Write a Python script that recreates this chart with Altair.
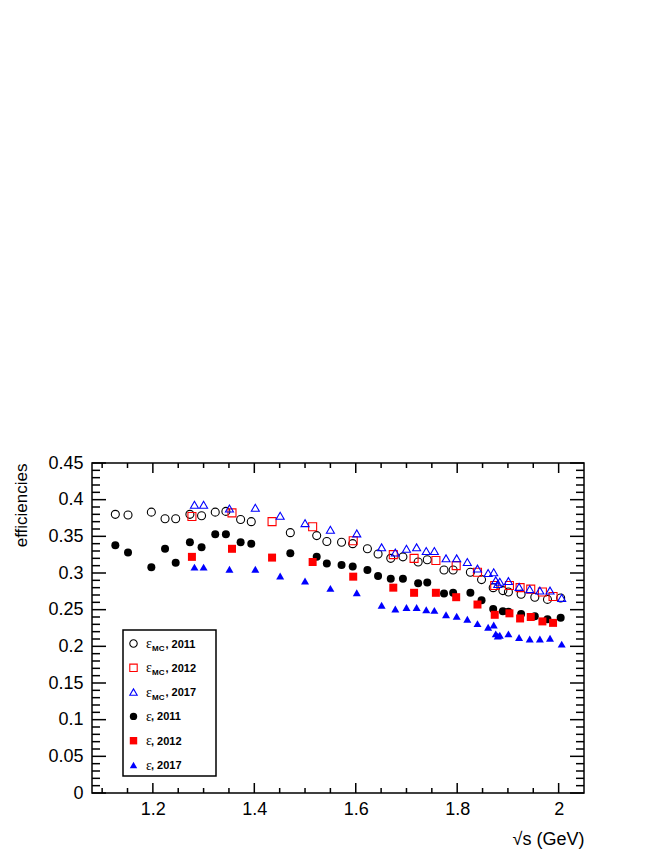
import altair as alt
import pandas as pd

# ---------------- data ----------------
x_2011 = [1.126, 1.151, 1.197, 1.224, 1.245, 1.273, 1.296, 1.323, 1.344, 1.373, 1.394,
          1.471, 1.523, 1.543, 1.572, 1.594, 1.623, 1.644, 1.669, 1.693, 1.723, 1.741,
          1.774, 1.792, 1.826, 1.848, 1.871, 1.890, 1.901, 1.926, 1.953, 1.978, 2.004]
mc_2011 = [0.380, 0.379, 0.383, 0.374, 0.374, 0.380, 0.378, 0.383, 0.384, 0.373, 0.370,
           0.355, 0.351, 0.343, 0.342, 0.340, 0.333, 0.326, 0.320, 0.322, 0.315, 0.318,
           0.304, 0.304, 0.301, 0.291, 0.280, 0.276, 0.274, 0.271, 0.267, 0.264, 0.266]
eps_2011 = [0.338, 0.328, 0.308, 0.333, 0.314, 0.342, 0.335, 0.353, 0.353, 0.342, 0.340,
            0.327, 0.322, 0.313, 0.311, 0.309, 0.304, 0.296, 0.292, 0.292, 0.286, 0.287,
            0.272, 0.273, 0.273, 0.263, 0.251, 0.248, 0.247, 0.244, 0.241, 0.237, 0.239]

x_2012 = [1.277, 1.356, 1.435, 1.515, 1.595, 1.674, 1.715, 1.758, 1.798, 1.840,
          1.874, 1.903, 1.924, 1.945, 1.968, 1.989]
mc_2012 = [0.377, 0.382, 0.370, 0.363, 0.344, 0.325, 0.320, 0.317, 0.310, 0.301,
           0.283, 0.283, 0.280, 0.278, 0.274, 0.268]
eps_2012 = [0.322, 0.333, 0.321, 0.315, 0.295, 0.280, 0.273, 0.273, 0.267, 0.257,
            0.243, 0.245, 0.238, 0.240, 0.234, 0.232]

x_2017 = [1.282, 1.300, 1.351, 1.402, 1.451, 1.500, 1.550, 1.602, 1.651, 1.678,
          1.700, 1.720, 1.739, 1.755, 1.778, 1.799, 1.820, 1.840, 1.861, 1.872,
          1.876, 1.880, 1.884, 1.901, 1.922, 1.943, 1.963, 1.983, 2.006]
mc_2017 = [0.393, 0.393, 0.388, 0.389, 0.378, 0.368, 0.359, 0.354, 0.335, 0.328,
           0.333, 0.335, 0.330, 0.330, 0.320, 0.320, 0.315, 0.306, 0.300, 0.301,
           0.290, 0.285, 0.288, 0.289, 0.281, 0.278, 0.276, 0.276, 0.266]
eps_2017 = [0.308, 0.308, 0.305, 0.305, 0.296, 0.289, 0.279, 0.273, 0.256, 0.251,
            0.253, 0.253, 0.250, 0.249, 0.243, 0.241, 0.237, 0.231, 0.226, 0.229,
            0.217, 0.214, 0.215, 0.217, 0.212, 0.210, 0.210, 0.211, 0.203]

years = ["2011", "2012", "2017"]
colors = ["#000000", "#ff0000", "#0000ff"]
shapes = ["circle", "square", "triangle-up"]

x_major = [1.2, 1.4, 1.6, 1.8, 2.0]
x_minor = [1.1, 1.15, 1.25, 1.3, 1.35, 1.45, 1.5, 1.55, 1.65, 1.7, 1.75,
           1.85, 1.9, 1.95]
y_major = [0.0, 0.05, 0.1, 0.15, 0.2, 0.25, 0.3, 0.35, 0.4, 0.45]
y_minor = [round(i * 0.01, 2) for i in range(46) if i % 5 != 0]

# ---------------- layout ----------------
W, H = 492, 330
FONT = "Liberation Sans"

xscale = alt.Scale(domain=[1.08, 2.05], nice=False, zero=False)
yscale = alt.Scale(domain=[0, 0.45], nice=False, zero=True)

xaxis = alt.Axis(values=x_major, format=".1~f", ticks=False, domain=False, grid=False,
                 labelFontSize=18, labelFont=FONT, labelColor="black", labelPadding=7,
                 labelFlush=False, orient="bottom",
                 title="√s (GeV)", titleFont=FONT, titleFontSize=18, titleFontWeight="normal",
                 titleColor="black", titleAnchor="end", titlePadding=12)
yaxis = alt.Axis(values=y_major, format=".2~f", ticks=False, domain=False, grid=False,
                 labelFontSize=18, labelFont=FONT, labelColor="black", labelPadding=9,
                 labelFlush=False, orient="left",
                 title="efficiencies", titleFont=FONT, titleFontSize=17,
                 titleFontWeight="normal", titleColor="black", titleAnchor="end",
                 titlePadding=17)

dummy = pd.DataFrame({"d": [0]})


def X(field):
    return alt.X(field, type="quantitative", scale=xscale, axis=xaxis)


def Y(field):
    return alt.Y(field, type="quantitative", scale=yscale, axis=yaxis)


def series_layer(xs, ys, shape, color, filled):
    df = pd.DataFrame({"x": xs, "y": ys})
    if filled:
        mk = dict(shape=shape, filled=True, fill=color, strokeWidth=0, size=64, opacity=1)
    else:
        mk = dict(shape=shape, filled=False, stroke=color, strokeWidth=1.1, size=64, opacity=1)
    return alt.Chart(df).mark_point(**mk).encode(x=X("x"), y=Y("y"))


layers = []
layers.append(series_layer(x_2011, mc_2011, "circle", colors[0], False))
layers.append(series_layer(x_2012, mc_2012, "square", colors[1], False))
layers.append(series_layer(x_2017, mc_2017, "triangle-up", colors[2], False))
layers.append(series_layer(x_2011, eps_2011, "circle", colors[0], True))
layers.append(series_layer(x_2012, eps_2012, "square", colors[1], True))
layers.append(series_layer(x_2017, eps_2017, "triangle-up", colors[2], True))


# ---------------- inward ticks on all four sides ----------------
def xticks(vals, length):
    df = pd.DataFrame({"x": vals})
    base = alt.Chart(df).mark_rule(color="black", strokeWidth=1.5)
    bottom = base.encode(x=X("x"), y=alt.value(H), y2=alt.value(H - length))
    top = base.encode(x=X("x"), y=alt.value(0), y2=alt.value(length))
    return [bottom, top]


def yticks(vals, length):
    df = pd.DataFrame({"y": vals})
    base = alt.Chart(df).mark_rule(color="black", strokeWidth=1.5)
    left = base.encode(y=Y("y"), x=alt.value(0), x2=alt.value(length))
    right = base.encode(y=Y("y"), x=alt.value(W), x2=alt.value(W - length))
    return [left, right]


layers += xticks(x_major, 10) + xticks(x_minor, 5)
layers += yticks(y_major, 14) + yticks(y_minor, 8)

# ---------------- legend box ----------------
LX0, LX1, LY0, LY1 = 31, 124, 167, 313
layers.append(alt.Chart(dummy).mark_rect(fill="white", stroke="black", strokeWidth=1.5).encode(
    x=alt.value(LX0), x2=alt.value(LX1), y=alt.value(LY0), y2=alt.value(LY1)))

row0, step = 181, 24.3
entries = [(True, 0), (True, 1), (True, 2), (False, 0), (False, 1), (False, 2)]

for r, (is_mc, i) in enumerate(entries):
    yc = row0 + step * r
    mk = dict(shape=shapes[i], size=55, opacity=1)
    if is_mc:
        mk.update(filled=False, stroke=colors[i], strokeWidth=1.1)
    else:
        mk.update(filled=True, fill=colors[i], strokeWidth=0)
    layers.append(alt.Chart(dummy).mark_point(**mk).encode(
        x=alt.value(41.5), y=alt.value(yc - 0.5)))
    layers.append(alt.Chart(dummy).mark_text(
        text="ε", font="Liberation Serif", fontSize=14, align="left",
        baseline="alphabetic", color="black").encode(
        x=alt.value(54), y=alt.value(yc + 4)))
    if is_mc:
        layers.append(alt.Chart(dummy).mark_text(
            text="MC", font=FONT, fontSize=8, fontWeight="bold", align="left",
            baseline="alphabetic", color="black").encode(
            x=alt.value(60), y=alt.value(yc + 7)))
        layers.append(alt.Chart(dummy).mark_text(
            text=", " + years[i], font=FONT, fontSize=11, fontWeight="bold", align="left",
            baseline="alphabetic", color="black").encode(
            x=alt.value(73.5), y=alt.value(yc + 3.5)))
    else:
        layers.append(alt.Chart(dummy).mark_text(
            text=", " + years[i], font=FONT, fontSize=11, fontWeight="bold", align="left",
            baseline="alphabetic", color="black").encode(
            x=alt.value(59), y=alt.value(yc + 3.5)))

chart = alt.layer(*layers).properties(
    width=W, height=H,
    autosize=alt.AutoSizeParams(type="none"),
    padding={"left": 84, "top": 455, "right": 60, "bottom": 60},
    background="white",
).configure_view(stroke="black", strokeWidth=1.5)

chart.save("out.html", embed_options={"renderer": "svg", "actions": False})
